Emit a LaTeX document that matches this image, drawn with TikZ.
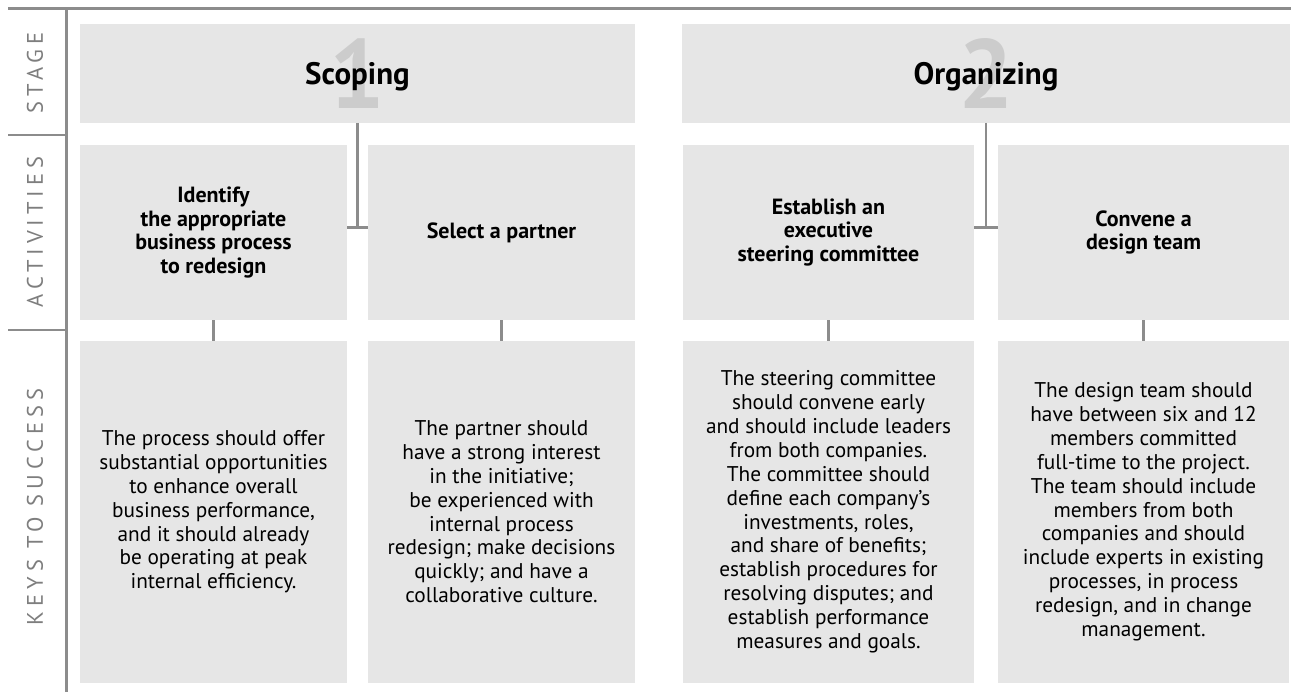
\documentclass[tikz,border=0pt]{standalone}
\usepackage{fontspec}
\setmainfont{PT Sans}
\newfontfamily\labelfont[LetterSpace=22]{PT Sans}
\definecolor{boxgray}{HTML}{E6E6E6}
\definecolor{linegray}{HTML}{8C8C8C}
\definecolor{numgray}{HTML}{CCCCCC}
\definecolor{labelgray}{HTML}{7E7E7E}
\tikzset{
        cell/.style={fill=boxgray, inner sep=0pt, align=center},
        stagebox/.style={cell, minimum height=98.7pt},
        actbox/.style={cell, minimum height=175pt, font=\fontsize{22}{23.4}\selectfont\bfseries},
        keybox/.style={cell, minimum height=341.7pt, font=\fontsize{21.3}{23.9}\selectfont},
        numeral/.style={text=numgray, inner sep=0pt, font=\fontsize{98}{98}\selectfont\bfseries},
        stagetitle/.style={inner sep=0pt, anchor=base, font=\fontsize{31}{31}\selectfont\bfseries},
        rowlabel/.style={text=labelgray, rotate=90, inner sep=0pt, font=\labelfont\fontsize{22.5}{22.5}\selectfont},
        conn/.style={draw=linegray, line width=2.6pt},
        framerule/.style={draw=linegray, line width=2.8pt}
          }
\begin{document}
\begin{tikzpicture}[x=1pt, y=-1pt]
  \useasboundingbox (0,0) rectangle (1291,692);
  \draw[framerule] (8,8.3) -- (1291,8.3);
  \draw[framerule] (66.7,8.3) -- (66.7,692);
  \draw[framerule] (8,135) -- (66.7,135);
  \draw[framerule] (8,330) -- (66.7,330);
  \node[rowlabel] (lstage) at (35,73) {STAGE};
  \node[rowlabel] (lact) at (35,232) {ACTIVITIES};
  \node[rowlabel] (lkeys) at (35,507) {KEYS TO SUCCESS};

  \node[stagebox, minimum width=555pt] (scoping) at (357.5,73.3) {};
  \node[stagebox, minimum width=608pt] (organizing) at (986,73.3) {};
  \node[numeral] (n1) at (scoping) {1};
  \node[numeral] (n2) at (organizing) {2};
  \node[stagetitle] (t1) at ([yshift=-11pt]scoping.center) {Scoping};
  \node[stagetitle] (t2) at ([yshift=-11pt]organizing.center) {Organizing};

  \node[actbox, minimum width=267pt] (identify) at (213.5,232.5) {Identify\\the appropriate\\business process\\to redesign};
  \node[actbox, minimum width=267pt] (select) at (501.5,232.5) {Select a partner};
  \node[actbox, minimum width=291pt] (steer) at (828.5,232.5) {Establish an\\executive\\steering committee};
  \node[actbox, minimum width=291pt] (convene) at (1143.5,232.5) {Convene a\\design team};

  \node[keybox, minimum width=267pt] (kprocess) at (213.5,511.8) {The process should offer\\substantial opportunities\\to enhance overall\\business performance,\\and it should already\\be operating at peak\\internal efficiency.};
  \node[keybox, minimum width=267pt] (kpartner) at (501.5,511.8) {The partner should\\have a strong interest\\in the initiative;\\be experienced with\\internal process\\redesign; make decisions\\quickly; and have a\\collaborative culture.};
  \node[keybox, minimum width=291pt] (ksteer) at (828.5,511.8) {The steering committee\\should convene early\\and should include leaders\\from both companies.\\The committee should\\define each company's\\investments, roles,\\and share of benefits;\\establish procedures for\\resolving disputes; and\\establish performance\\measures and goals.};
  \node[keybox, minimum width=291pt] (kteam) at (1143.5,511.8) {The design team should\\have between six and 12\\members committed\\full-time to the project.\\The team should include\\members from both\\companies and should\\include experts in existing\\processes, in process\\redesign, and in change\\management.};

  \coordinate (j1) at (357.5,227.7);
  \coordinate (j2) at (986,227.7);
  \draw[conn] (scoping.south) -- (j1);
  \draw[conn] (identify.east |- j1) -- (select.west |- j1);
  \draw[conn] (organizing.south) -- (j2);
  \draw[conn] (steer.east |- j2) -- (convene.west |- j2);
  \foreach \a/\k in {identify/kprocess, select/kpartner, steer/ksteer, convene/kteam}
    \draw[conn] (\a.south) -- (\k.north);
\end{tikzpicture}
\end{document}
